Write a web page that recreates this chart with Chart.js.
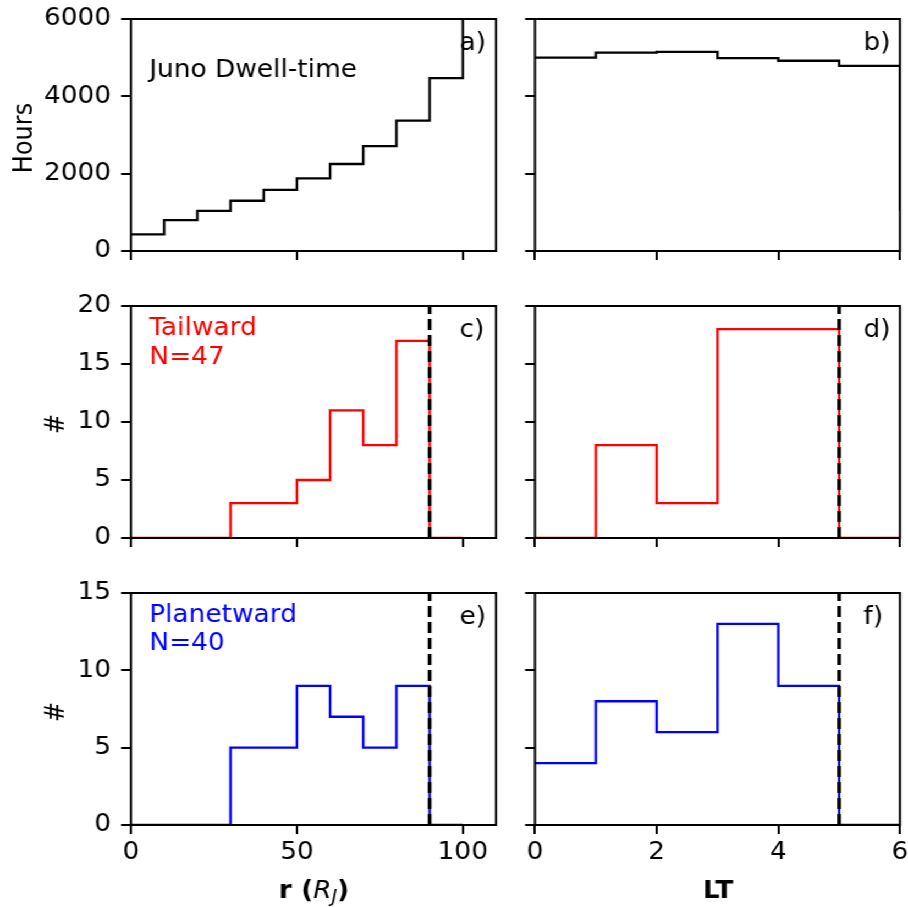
<!DOCTYPE html>
<html><head><meta charset="utf-8">
<script src="https://cdn.jsdelivr.net/npm/chart.js@4.4.0/dist/chart.umd.min.js"></script>
<style>
html,body{margin:0;padding:0;background:#fff;overflow:hidden;width:908px;height:907px;}
#wrap{position:absolute;left:0;top:0;width:826px;height:907px;transform:scaleX(1.1);transform-origin:0 0;}
#wrap canvas{position:absolute;left:0;top:0;}
</style></head><body><div id="wrap"></div>
<script>
// ---- data (bin left edges; value holds until next edge) ----
const rEdges  = [0,10,20,30,40,50,60,70,80,90,100,110];
const ltEdges = [0,1,2,3,4,5,6];
const dwellR  = [430,800,1040,1300,1580,1880,2250,2710,3370,4470,6500,6500];
const dwellLT = [5000,5130,5150,4990,4920,4790,1040];
const tailR   = [0,0,0,3,3,5,11,8,17,0,0];
const tailLT  = [0,8,3,18,18,0,0];
const planR   = [0,0,0,5,5,9,7,5,9,0,0];
const planLT  = [4,8,6,13,9,0,0];
const rCut = 90, ltCut = 5;
// ---- ticks ----
const rTicks = [0,50,100];
const ltTicks = [0,2,4,6];
const hoursTicks = [0,2000,4000,6000];
const tailTicks = [0,5,10,15,20];
const planTicks = [0,5,10,15];
const panelLabels = ['a)','b)','c)','d)','e)','f)'];

const S = 1.1, CW = 826, CH = 907;
const FONT = '"DejaVu Sans", sans-serif';
const colsPx = [[131,496],[535,900]];
const rowsPx = [[19,251],[306,538],[593,825]];

function pts(edges, vals){ return vals.map((v,i)=>({x:edges[i], y:v})); }

function yTitle(ctx, text, cxScreen, cy){
  ctx.save();
  ctx.font = `24px ${FONT}`; ctx.fillStyle='#000';
  ctx.textAlign='center'; ctx.textBaseline='alphabetic';
  ctx.translate(cxScreen/S + 8.7, cy);
  ctx.rotate(-Math.PI/2);
  ctx.fillText(text, 0, 0);
  ctx.restore();
}
function richTitle(ctx, pieces, cxScreen, baseY){
  ctx.save(); ctx.fillStyle='#000'; ctx.textBaseline='alphabetic'; ctx.textAlign='left';
  let total = 0;
  pieces.forEach(p=>{ctx.font=p.f; p.w=ctx.measureText(p.t).width; total+=p.w;});
  let x = cxScreen/S - total/2;
  pieces.forEach(p=>{ctx.font=p.f; ctx.fillText(p.t, x, baseY+(p.dy||0)); x+=p.w;});
  ctx.restore();
}

const panels = [
  {col:0,row:0,edges:rEdges,vals:dwellR,color:'#000000',xmax:110,xt:rTicks,ymax:6000,yt:hoursTicks,showX:false,showY:true,
   texts:[{t:'Juno Dwell-time',dy:58,c:'#000000'}],
   extra:(ctx)=>yTitle(ctx,'Hours',22,138)},
  {col:1,row:0,edges:ltEdges,vals:dwellLT,color:'#000000',xmax:6,xt:ltTicks,ymax:6000,yt:hoursTicks,showX:false,showY:false,texts:[]},
  {col:0,row:1,edges:rEdges,vals:tailR,color:'#ff0000',xmax:110,xt:rTicks,ymax:20,yt:tailTicks,showX:false,showY:true,cut:rCut,
   texts:[{t:'Tailward',dy:28.5,c:'#ff0000'},{t:'N=47',dy:57.5,c:'#ff0000'}],
   extra:(ctx)=>yTitle(ctx,'#',54,424)},
  {col:1,row:1,edges:ltEdges,vals:tailLT,color:'#ff0000',xmax:6,xt:ltTicks,ymax:20,yt:tailTicks,showX:false,showY:false,cut:ltCut,texts:[]},
  {col:0,row:2,edges:rEdges,vals:planR,color:'#0000ff',xmax:110,xt:rTicks,ymax:15,yt:planTicks,showX:true,showY:true,cut:rCut,
   texts:[{t:'Planetward',dy:28.5,c:'#0000ff'},{t:'N=40',dy:57,c:'#0000ff'}],
   extra:(ctx)=>{yTitle(ctx,'#',54,712);
     richTitle(ctx,[{t:'r (',f:`bold 24px ${FONT}`},{t:'R',f:`italic 24px ${FONT}`},{t:'J',f:`italic 17px ${FONT}`,dy:4},{t:')',f:`bold 24px ${FONT}`}],314,898);}},
  {col:1,row:2,edges:ltEdges,vals:planLT,color:'#0000ff',xmax:6,xt:ltTicks,ymax:15,yt:planTicks,showX:true,showY:false,cut:ltCut,texts:[],
   extra:(ctx)=>richTitle(ctx,[{t:'LT',f:`bold 24px ${FONT}`}],718,898)}
];

const wrap = document.getElementById('wrap');
panels.forEach((p,idx)=>{
  const L = colsPx[p.col][0]/S, R = colsPx[p.col][1]/S;
  const T = rowsPx[p.row][0], B = rowsPx[p.row][1];
  const cv = document.createElement('canvas');
  cv.width = CW; cv.height = CH; cv.style.width = CW+'px'; cv.style.height = CH+'px';
  wrap.appendChild(cv);
  const datasets = [];
  if (p.cut !== undefined) {
    datasets.push({data:[{x:p.cut,y:0},{x:p.cut,y:p.ymax}], borderColor:'#000000', borderWidth:3.4,
      borderDash:[11,5], pointRadius:0, fill:false, order:0});
  }
  datasets.push({data:pts(p.edges,p.vals), stepped:'before', borderColor:p.color, borderWidth:2.3,
    pointRadius:0, fill:false, order:1});
  const gridOpt = {drawOnChartArea:false, drawTicks:true, tickLength:9, color:'#000000', lineWidth:2};
  const label = panelLabels[idx];
  new Chart(cv, {
    type:'line',
    data:{datasets},
    options:{
      responsive:false, animation:false, devicePixelRatio:1, events:[],
      layout:{padding:{left:0, top:T, right:CW-R, bottom:0}},
      plugins:{legend:{display:false}, tooltip:{enabled:false}},
      scales:{
        x:{type:'linear', min:0, max:p.xmax,
           afterBuildTicks:s=>{s.ticks = p.xt.map(v=>({value:v}));},
           afterFit:s=>{s.height = CH - B; s.paddingLeft = 0; s.paddingRight = 0;},
           grid:gridOpt, border:{display:false},
           ticks:{display:p.showX, color:'#000000', font:{family:FONT, size:24}, padding:4, maxRotation:0, autoSkip:false,
                  callback:v=>String(v)}},
        y:{type:'linear', min:0, max:p.ymax,
           afterBuildTicks:s=>{s.ticks = p.yt.map(v=>({value:v}));},
           afterFit:s=>{s.width = L; s.paddingTop = 0; s.paddingBottom = 0;},
           grid:gridOpt, border:{display:false},
           ticks:{display:p.showY, color:'#000000', font:{family:FONT, size:24}, padding:9, autoSkip:false,
                  callback:v=>String(v)}}
      }
    },
    plugins:[{id:'panelText', afterDraw(chart){
      const ctx = chart.ctx, a = chart.chartArea, w = a.right - a.left;
      ctx.save();
      ctx.strokeStyle='#000000'; ctx.lineWidth=2;
      ctx.strokeRect(a.left, a.top, w, a.bottom-a.top);
      ctx.font = `24px ${FONT}`; ctx.textBaseline='alphabetic'; ctx.textAlign='left';
      ctx.fillStyle='#000000';
      ctx.fillText(label, a.left + 0.9*w, a.top + 31);
      p.texts.forEach(t=>{ctx.fillStyle=t.c; ctx.fillText(t.t, a.left + 0.05*w, a.top + t.dy);});
      if (p.extra) p.extra(ctx, a);
      ctx.restore();
    }}]
  });
});
</script>
</body></html>
